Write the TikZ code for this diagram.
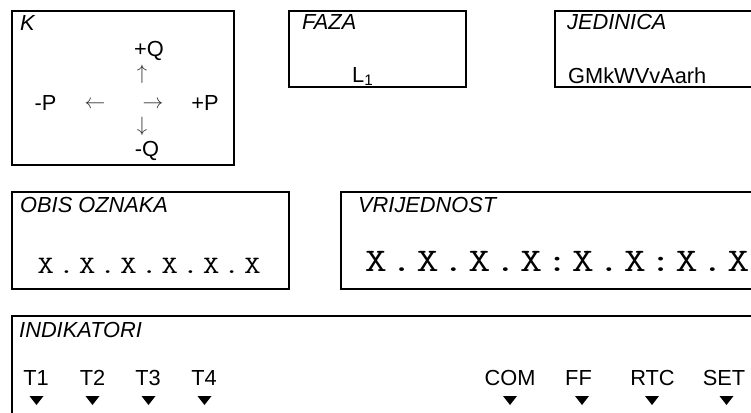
\documentclass[tikz,border=0pt]{standalone}
\usepackage{fontspec}
\setmainfont{Liberation Sans}
\begin{document}
\begin{tikzpicture}[x=1pt,y=-1pt,
  box/.style={draw,line width=2pt},
  lbl/.style={inner sep=0pt,anchor=base west,font=\fontsize{21.8}{26}\selectfont\itshape},
  txt/.style={inner sep=0pt,anchor=base,font=\fontsize{21.8}{26}\selectfont},
  txtw/.style={inner sep=0pt,anchor=base west,font=\fontsize{21.8}{26}\selectfont},
  arr/.style={inner sep=0pt,anchor=center,font=\fontsize{20}{24}\selectfont,text=black!80},
  mono/.style={inner sep=0pt,anchor=base,xscale=1.3,font=\fontsize{25}{30}\selectfont\ttfamily},
  bigmono/.style={inner sep=0pt,anchor=base,xscale=1.3,font=\fontsize{33}{40}\selectfont\ttfamily},
  tri/.pic={\fill (-7,-4.5) -- (7,-4.5) -- (0,4.5) -- cycle;}]
\useasboundingbox (0,0) rectangle (751,412);
\clip (0,0) rectangle (751,412);
% boxes
\draw[box] (11.5,11.5) rectangle (233.5,165);
\draw[box] (289,11.5) rectangle (465.5,87.3);
\draw[box] (554.5,11.5) rectangle (790,87.3);
\draw[box] (11.5,192.3) rectangle (288.7,289.3);
\draw[box] (341,192.3) rectangle (790,289.3);
\draw[box] (11.5,315.7) rectangle (790,440);
% K box
\node[lbl] (k) at (20,31) {K};
\node[txt] (pq) at (149,56.5) {+Q};
\node[arr] (au) at (142,74) {$\uparrow$};
\node[txt] (mp) at (45.5,110) {-P};
\node[arr] (al) at (95,105) {$\leftarrow$};
\node[arr] (ar) at (153,105) {$\rightarrow$};
\node[txt] (pp) at (205,110) {+P};
\node[arr] (ad) at (142,126.5) {$\downarrow$};
\node[txt] (mq) at (147,156) {-Q};
% FAZA
\node[lbl] (faza) at (302,30) {FAZA};
\node[txtw] (l1) at (352,82) {L\textsubscript{1}};
% JEDINICA
\node[lbl] (jed) at (567,30) {JEDINICA};
\node[txtw] (units) at (568,83) {GMkWVvAarh};
% OBIS
\node[lbl] (obis) at (20,212) {OBIS OZNAKA};
\foreach \c [count=\i from 0] in {X,.,X,.,X,.,X,.,X,.,X}
  \node[mono] (o\i) at (45.8+\i*20.67,273.3) {\c};
% VRIJEDNOST
\node[lbl] (vr) at (358,212) {VRIJEDNOST};
\foreach \c [count=\i from 0] in {X,.,X,.,X,.,X,:,X,.,X,:,X,.,X}
  \node[bigmono] (v\i) at (375.8+\i*25.9,271.7) {\c};
% INDIKATORI
\node[lbl] (ind) at (19,337) {INDIKATORI};
\foreach \t/\x/\tx [count=\i] in {T1/36/36.5,T2/92.5/92.5,T3/148/148.5,T4/204/204.5,COM/510/510,FF/578.5/582,RTC/652.5/652,SET/724/726.5}{
  \node[txt] (t\i) at (\x,385) {\t};
  \pic at (\tx,400.5) {tri};
}
\end{tikzpicture}
\end{document}
